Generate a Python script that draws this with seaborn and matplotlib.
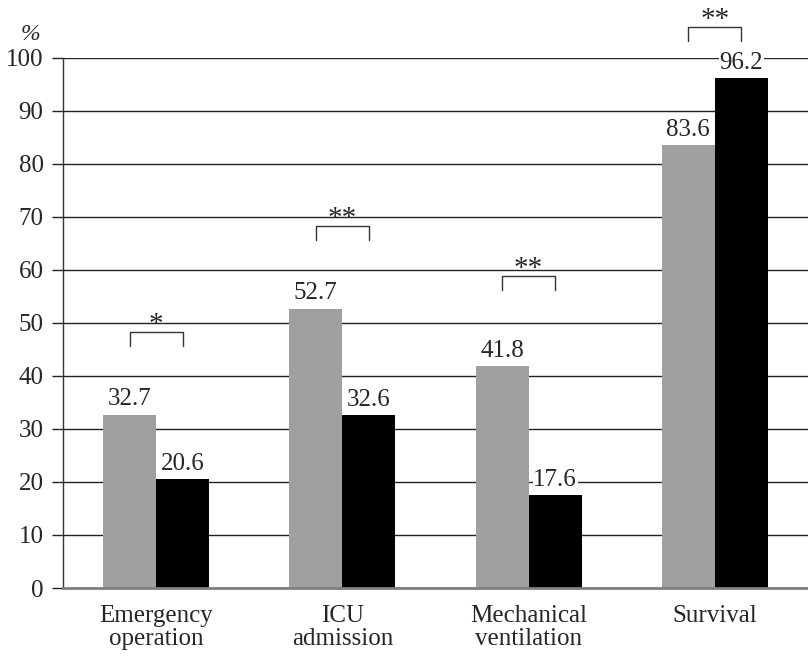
import matplotlib.pyplot as plt
import seaborn as sns
import pandas as pd

# values
categories = ["Emergency\noperation", "ICU\nadmission", "Mechanical\nventilation", "Survival"]
groups = ["A", "B"]
group_a = [32.7, 52.7, 41.8, 83.6]
group_b = [20.6, 32.6, 17.6, 96.2]
sig_marks = ["*", "**", "**", "**"]
bracket_tops = [48.3, 68.3, 58.9, 105.8]
yticks = list(range(0, 101, 10))

df = pd.DataFrame({
    "category": categories * 2,
    "group": [groups[0]] * 4 + [groups[1]] * 4,
    "value": group_a + group_b,
})

sns.set_style("white")
plt.rcParams["font.family"] = ["Liberation Serif", "DejaVu Serif"]

fig = plt.figure(figsize=(8.08, 6.57), dpi=100)
ax = fig.add_axes([0.078, 0.105, 0.922, 0.807])

sns.barplot(data=df, x="category", y="value", hue="group",
            palette=["#a0a0a0", "#000000"], width=0.57, gap=0,
            saturation=1, linewidth=0, ax=ax, legend=False)

ax.set_xlim(-0.5, 3.5)
ax.set_ylim(0, 100)
ax.set_yticks(yticks)
ax.set_axisbelow(True)
ax.yaxis.grid(True, color="#222222", lw=1)
ax.xaxis.grid(False)
ax.set_xlabel("")
ax.set_ylabel("")

for side in ["top", "right"]:
    ax.spines[side].set_visible(False)
ax.spines["left"].set_color("#333333")
ax.spines["left"].set_linewidth(1)
ax.spines["bottom"].set_color("#808080")
ax.spines["bottom"].set_linewidth(2)

ax.tick_params(axis="y", direction="out", length=8, width=1, color="#222222",
               labelsize=18, pad=6, left=True)
ax.tick_params(axis="x", length=0, labelsize=18, pad=12)
for lab in ax.get_xticklabels():
    lab.set_linespacing(1.05)

for cont in ax.containers:
    ax.bar_label(cont, fmt="%.1f", fontsize=18, padding=3,
                 bbox=dict(facecolor="white", edgecolor="none", pad=0.5))

# significance brackets
bars_a = ax.containers[0]
bars_b = ax.containers[1]
for i in range(len(categories)):
    x1 = bars_a[i].get_x() + bars_a[i].get_width() / 2
    x2 = bars_b[i].get_x() + bars_b[i].get_width() / 2
    top = bracket_tops[i]
    ax.plot([x1, x1, x2, x2], [top - 2.7, top, top, top - 2.7],
            color="#333333", lw=1, clip_on=False)
    ax.text((x1 + x2) / 2, top - 1.2, sig_marks[i], ha="center", va="bottom",
            fontsize=21, clip_on=False)

ax.text(-0.03, 1.025, "%", transform=ax.transAxes, ha="right", va="bottom",
        fontsize=17, style="italic")

fig.savefig("out.png", dpi=100)
